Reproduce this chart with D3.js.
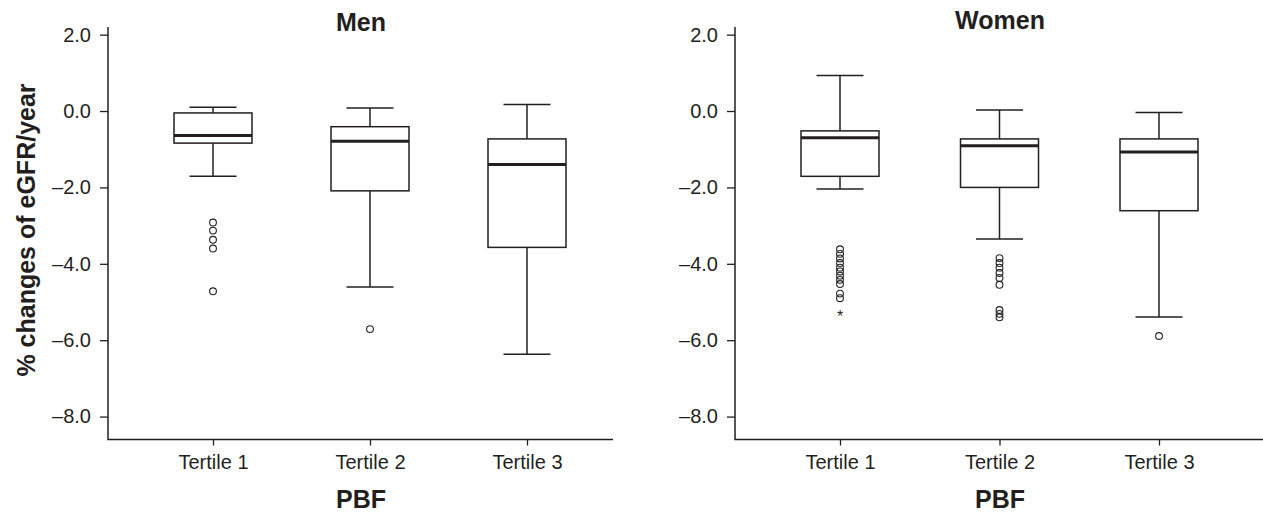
<!DOCTYPE html>
<html>
<head>
<meta charset="utf-8">
<script src="https://cdn.jsdelivr.net/npm/d3@7"></script>
<style>
  body { margin: 0; background: #fff; }
  svg { display: block; font-family: "Liberation Sans", Arial, sans-serif; }
</style>
</head>
<body>
<div id="chart"></div>
<script>
const width = 1263;
const height = 512;

const groups = ["Tertile 1", "Tertile 2", "Tertile 3"];
const yTicks = [2, 0, -2, -4, -6, -8];

// Men
const menHigh = [0.10, 0.08, 0.17];
const menQ3 = [-0.05, -0.41, -0.73];
const menMedian = [-0.64, -0.79, -1.40];
const menQ1 = [-0.84, -2.09, -3.57];
const menLow = [-1.71, -4.61, -6.37];
const menOutliers = [[-2.92, -3.13, -3.37, -3.60, -4.72], [-5.71], []];
const menExtremes = [[], [], []];

// Women
const womenHigh = [0.93, 0.03, -0.04];
const womenQ3 = [-0.52, -0.73, -0.73];
const womenMedian = [-0.70, -0.91, -1.07];
const womenQ1 = [-1.71, -2.00, -2.61];
const womenLow = [-2.04, -3.35, -5.39];
const womenOutliers = [
  [-3.62, -3.74, -3.86, -3.98, -4.10, -4.20, -4.31, -4.42, -4.53, -4.78, -4.90],
  [-3.85, -3.98, -4.10, -4.24, -4.37, -4.55, -5.21, -5.31, -5.40],
  [-5.89]
];
const womenExtremes = [[-5.35], [], []];

const ink = "#231f20";

const svg = d3
  .select("#chart")
  .append("svg")
  .attr("width", width)
  .attr("height", height);

const y = d3.scaleLinear().domain([-8.6, 2.2]).range([439.5, 27]);

const panels = [
  {
    title: "Men", x0: 108, x1: 613, xr: [213, 527], titleX: 361, titleY: 31,
    high: menHigh, q3: menQ3, median: menMedian, q1: menQ1, low: menLow,
    outliers: menOutliers, extremes: menExtremes
  },
  {
    title: "Women", x0: 735, x1: 1265, xr: [840, 1159], titleX: 1000, titleY: 29,
    high: womenHigh, q3: womenQ3, median: womenMedian, q1: womenQ1, low: womenLow,
    outliers: womenOutliers, extremes: womenExtremes
  }
];

const boxW = 78;
const capW = 47;

panels.forEach((p) => {
  const g = svg.append("g");
  const x = d3.scalePoint().domain(groups).range(p.xr);

  // y axis
  const yAxis = d3
    .axisLeft(y)
    .tickValues(yTicks)
    .tickSize(8)
    .tickPadding(9)
    .tickSizeOuter(0)
    .tickFormat((d) => (d < 0 ? "\u2013" : "") + Math.abs(d).toFixed(1));

  const ya = g
    .append("g")
    .attr("transform", `translate(${p.x0},0)`)
    .call(yAxis);
  ya.select(".domain").remove();
  ya.selectAll(".tick line").attr("stroke", ink).attr("stroke-width", 1.3);
  ya.selectAll(".tick text")
    .attr("fill", ink)
    .style("font-size", "20px")
    .style("font-family", '"Liberation Sans", Arial, sans-serif');

  // x axis
  const xAxis = d3.axisBottom(x).tickSize(6).tickPadding(9).tickSizeOuter(0);
  const xa = g
    .append("g")
    .attr("transform", `translate(0,${y.range()[0]})`)
    .call(xAxis);
  xa.select(".domain").remove();
  xa.selectAll(".tick line").attr("stroke", ink).attr("stroke-width", 1.3);
  xa.selectAll(".tick text")
    .attr("fill", ink)
    .style("font-size", "20px")
    .style("font-family", '"Liberation Sans", Arial, sans-serif');

  // axis lines
  g.append("path")
    .attr("d", `M${p.x0},${y.range()[1]}V${y.range()[0]}H${p.x1}`)
    .attr("fill", "none")
    .attr("stroke", ink)
    .attr("stroke-width", 1.5);

  // boxes
  groups.forEach((k, i) => {
    const cx = x(k);
    const bg = g.append("g");

    bg.append("line")
      .attr("x1", cx).attr("x2", cx)
      .attr("y1", y(p.high[i])).attr("y2", y(p.q3[i]))
      .attr("stroke", ink).attr("stroke-width", 1.5);
    bg.append("line")
      .attr("x1", cx).attr("x2", cx)
      .attr("y1", y(p.q1[i])).attr("y2", y(p.low[i]))
      .attr("stroke", ink).attr("stroke-width", 1.5);
    [p.high[i], p.low[i]].forEach((v) => {
      bg.append("line")
        .attr("x1", cx - capW / 2).attr("x2", cx + capW / 2)
        .attr("y1", y(v)).attr("y2", y(v))
        .attr("stroke", ink).attr("stroke-width", 1.5);
    });
    bg.append("rect")
      .attr("x", cx - boxW / 2)
      .attr("y", y(p.q3[i]))
      .attr("width", boxW)
      .attr("height", y(p.q1[i]) - y(p.q3[i]))
      .attr("fill", "#fff")
      .attr("stroke", ink)
      .attr("stroke-width", 1.5);
    bg.append("line")
      .attr("x1", cx - boxW / 2).attr("x2", cx + boxW / 2)
      .attr("y1", y(p.median[i])).attr("y2", y(p.median[i]))
      .attr("stroke", ink).attr("stroke-width", 3);

    bg.selectAll("circle.out")
      .data(p.outliers[i])
      .join("circle")
      .attr("class", "out")
      .attr("cx", cx)
      .attr("cy", (d) => y(d))
      .attr("r", 3.4)
      .attr("fill", "none")
      .attr("stroke", ink)
      .attr("stroke-width", 1.1);

    bg.selectAll("text.ext")
      .data(p.extremes[i])
      .join("text")
      .attr("class", "ext")
      .attr("x", cx)
      .attr("y", (d) => y(d) + 7)
      .attr("text-anchor", "middle")
      .attr("fill", ink)
      .style("font-size", "16px")
      .text("*");
  });

  // panel title
  g.append("text")
    .attr("x", p.titleX)
    .attr("y", p.titleY)
    .attr("text-anchor", "middle")
    .attr("fill", ink)
    .style("font-size", "25px")
    .style("font-weight", "bold")
    .text(p.title);

  // x label
  g.append("text")
    .attr("x", p.titleX)
    .attr("y", 508)
    .attr("text-anchor", "middle")
    .attr("fill", ink)
    .style("font-size", "25px")
    .style("font-weight", "bold")
    .text("PBF");
});

svg
  .append("text")
  .attr("transform", "translate(35,230) rotate(-90)")
  .attr("text-anchor", "middle")
  .attr("fill", ink)
  .style("font-size", "25px")
  .style("font-weight", "bold")
  .text("% changes of eGFR/year");
</script>
</body>
</html>
